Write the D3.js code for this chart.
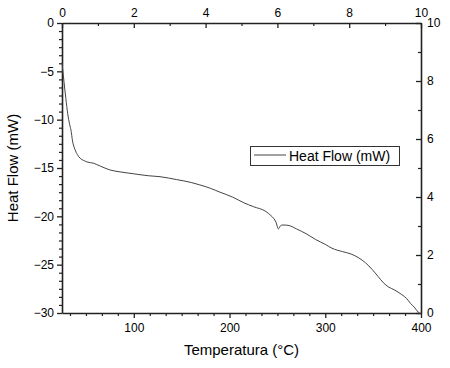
<!DOCTYPE html>
<html><head><meta charset="utf-8">
<script src="https://cdn.jsdelivr.net/npm/d3@7/dist/d3.min.js"></script>
<style>body{margin:0;background:#fff}svg{display:block}text{font-family:"Liberation Sans",Arial,sans-serif;fill:#000}</style>
</head><body><svg id="c" width="450" height="368"></svg>
<script>
const temps = [25, 27, 29, 31, 33, 34.4, 36, 38.6, 41, 44, 47.2, 52, 57.7, 65, 75, 85.6, 100, 115, 127.4, 144.8, 160, 169, 180, 190, 203, 215, 225, 238, 243, 246, 248.5, 251, 253, 255, 257, 262, 270, 280, 290, 300, 307, 318, 327, 335, 342, 349, 355, 361, 366, 372, 380, 385, 389, 393, 397, 400];
const heatFlow = [-4.1, -6.0, -7.8, -9.4, -10.5, -11.1, -12.2, -13.1, -13.6, -14.0, -14.2, -14.4, -14.5, -14.8, -15.2, -15.4, -15.6, -15.8, -15.9, -16.2, -16.5, -16.75, -17.1, -17.5, -18.0, -18.6, -19.0, -19.5, -19.9, -20.2, -20.6, -21.3, -21.0, -20.9, -20.9, -20.95, -21.3, -21.8, -22.4, -22.9, -23.3, -23.65, -23.9, -24.3, -24.8, -25.5, -26.2, -26.9, -27.3, -27.6, -28.1, -28.5, -29.0, -29.4, -29.9, -30.1];
const leftTicks = [0, -5, -10, -15, -20, -25, -30];
const bottomTicks = [100, 200, 300, 400];
const topTicks = [0, 2, 4, 6, 8, 10];
const rightTicks = [0, 2, 4, 6, 8, 10];
const seriesName = "Heat Flow (mW)";
const xTitle = "Temperatura (°C)";
const yTitle = "Heat Flow (mW)";

const svg = d3.select("#c");
const L = 62, R = 421, T = 23, B = 313;
const x = d3.scaleLinear().domain([25, 400]).range([L, R]);
const y = d3.scaleLinear().domain([-30, 0]).range([B, T]);
const xTop = d3.scaleLinear().domain([0, 10]).range([L, R]);
const yRight = d3.scaleLinear().domain([0, 10]).range([B, T]);

const minorX = d3.range(0, 401, 100/6).filter(v => v >= 25 && v <= 400 && Math.abs(v/100 - Math.round(v/100)) > 1e-6);
const minorY = d3.range(-30, 0.001, 5/6).filter(v => Math.abs(v/5 - Math.round(v/5)) > 1e-6);
const minorTop = [1, 3, 5, 7, 9];

function style(g){ g.select(".domain").attr("stroke","#222").attr("stroke-width",1.6); g.selectAll(".tick line").attr("stroke","#222").attr("stroke-width",1.3); g.selectAll(".tick text").style("font-size","12px").attr("fill","#000"); }

const gl = (sel, axis, tr) => svg.append("g").attr("transform", tr).call(axis).call(g=>{g.select(".domain").remove(); g.selectAll("text").remove(); g.selectAll("line").attr("stroke","#222").attr("stroke-width",1.2);});
gl(svg, d3.axisBottom(x).tickValues(minorX).tickSize(3), `translate(0,${B})`);
gl(svg, d3.axisLeft(y).tickValues(minorY).tickSize(3), `translate(${L},0)`);
gl(svg, d3.axisBottom(xTop).tickValues(minorTop).tickSize(3), `translate(0,${T})`);
gl(svg, d3.axisLeft(yRight).tickValues(minorTop).tickSize(3), `translate(${R},0)`);

svg.append("g").attr("transform",`translate(0,${B})`).call(d3.axisBottom(x).tickValues(bottomTicks).tickSize(5).tickSizeOuter(0).tickPadding(5)).call(style);
svg.append("g").attr("transform",`translate(${L},0)`).call(d3.axisLeft(y).tickValues(leftTicks).tickSize(5).tickSizeOuter(0).tickFormat(d3.format("d")).tickPadding(3)).call(style);
const gt = svg.append("g").attr("transform",`translate(0,${T})`).call(d3.axisTop(xTop).tickValues(topTicks).tickSize(0).tickSizeOuter(0).tickPadding(6)).call(style);
gt.selectAll(".tick line").attr("y2",5);
const gr = svg.append("g").attr("transform",`translate(${R},0)`).call(d3.axisRight(yRight).tickValues(rightTicks).tickSize(0).tickSizeOuter(0).tickPadding(6)).call(style);
gr.selectAll(".tick line").attr("x2",-5);

const pts = temps.map((t,i)=>[t, heatFlow[i]]);
svg.append("path").datum(pts)
  .attr("d", d3.line().x(d=>x(d[0])).y(d=>y(d[1])).curve(d3.curveMonotoneX))
  .attr("fill","none").attr("stroke","#444").attr("stroke-width",1);

const lg = svg.append("g");
lg.append("rect").attr("x",250.5).attr("y",146.5).attr("width",149).attr("height",19).attr("fill","#fff").attr("stroke","#333").attr("stroke-width",1);
lg.append("line").attr("x1",254).attr("x2",286).attr("y1",155).attr("y2",155).attr("stroke","#444").attr("stroke-width",1);
lg.append("text").attr("x",289).attr("y",161).style("font-size","14px").text(seriesName);

svg.append("text").attr("x",(L+R)/2).attr("y",355).attr("text-anchor","middle").style("font-size","15px").text(xTitle);
svg.append("text").attr("transform",`translate(18,${(T+B)/2}) rotate(-90)`).attr("text-anchor","middle").style("font-size","15px").text(yTitle);
</script></body></html>
